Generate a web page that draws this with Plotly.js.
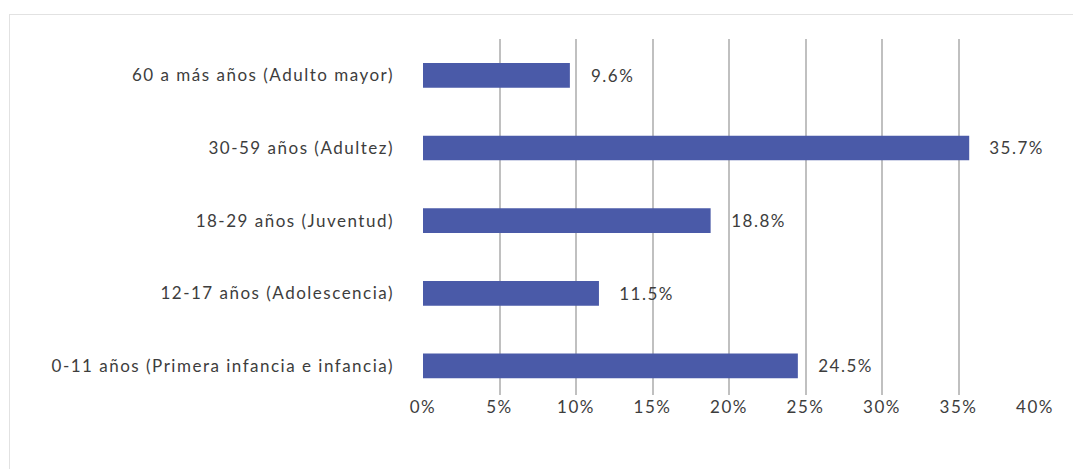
<!DOCTYPE html>
<html>
<head>
<meta charset="utf-8">
<script src="https://cdn.plot.ly/plotly-3.0.1.min.js"></script>
<style>
html,body{margin:0;padding:0;background:#fff;overflow:hidden;}
#chart{width:1073px;height:469px;}
#chart text{letter-spacing:1.5px;}
#frame{position:absolute;left:9px;top:14px;width:2000px;height:2000px;border:1.5px solid #e2e2e2;pointer-events:none;}
</style>
</head>
<body>
<div id="chart"></div>
<div id="frame"></div>
<script>
const categories = [
  "0-11 años (Primera infancia e infancia)",
  "12-17 años (Adolescencia)",
  "18-29 años (Juventud)",
  "30-59 años (Adultez)",
  "60 a más años (Adulto mayor)"
];
const values = [24.5, 11.5, 18.8, 35.7, 9.6];
const valueLabels = ["24.5%", "11.5%", "18.8%", "35.7%", "9.6%"];
const tickVals = [0, 5, 10, 15, 20, 25, 30, 35, 40];
const tickText = ["0%", "5%", "10%", "15%", "20%", "25%", "30%", "35%", "40%"];

const font = "Lato, 'Open Sans', sans-serif";
const textColor = "#3d3d3d";

const trace = {
  type: "bar",
  orientation: "h",
  x: values,
  y: categories,
  marker: {color: "#4a5aa8"},
  hoverinfo: "skip"
};

const annotations = values.map((v, i) => ({
  x: v, y: categories[i], xref: "x", yref: "y",
  text: valueLabels[i], showarrow: false,
  xanchor: "left", xshift: 22,
  font: {family: font, size: 17, color: textColor}
}));

const layout = {
  width: 1073, height: 469,
  margin: {l: 423, r: 38, t: 39, b: 74},
  paper_bgcolor: "#fff", plot_bgcolor: "#fff",
  bargap: 0.66,
  showlegend: false,
  font: {family: font, size: 17, color: textColor},
  xaxis: {
    range: [0, 40],
    tickvals: tickVals, ticktext: tickText,
    showgrid: true, gridcolor: "#c0c0c0", gridwidth: 2,
    zeroline: false, showline: false, ticks: "",
    tickfont: {family: font, size: 17, color: textColor},
    fixedrange: true
  },
  yaxis: {
    type: "category",
    range: [-0.4, 4.5],
    showgrid: false, zeroline: false, showline: false, ticks: "",
    ticklabelstandoff: 28,
    tickfont: {family: font, size: 17, color: textColor},
    fixedrange: true
  },
  annotations: annotations
};

Plotly.newPlot("chart", [trace], layout, {displayModeBar: false, staticPlot: true});
</script>
</body>
</html>
